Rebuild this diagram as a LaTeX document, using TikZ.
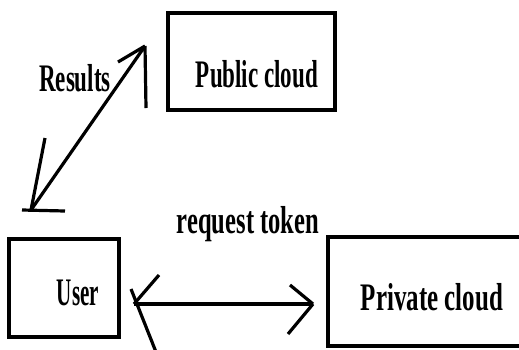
\documentclass[tikz,border=0pt]{standalone}
\usepackage{fontspec}
\setmainfont{Liberation Serif}
\newcommand{\narrow}[2][0.59]{\scalebox{#1}[1]{\bfseries #2}}

\begin{document}
\begin{tikzpicture}[x=1pt, y=-1pt,
    cbox/.style={draw, line width=3.5pt, inner sep=0pt},
    lbl/.style={font=\fontsize{39}{45}\selectfont, inner sep=0pt},
    stroke/.style={line width=3.2pt}]
    \useasboundingbox (0,0) rectangle (519,349);
    \clip (0,0) rectangle (519,349);
    % Public cloud box
    \node[cbox, minimum width=167pt, minimum height=97pt] (pub) at (251.5,61.5) {};
    \node[lbl] (publbl) at (257,74) {\narrow{Public cloud}};
    % User box
    \node[cbox, minimum width=110pt, minimum height=98pt] (user) at (64,288) {};
    \node[lbl] (userlbl) at (78,293) {\narrow[0.54]{User}};
    % Private cloud box (runs off the right edge)
    \node[cbox, minimum width=202pt, minimum height=109pt] (priv) at (429,291.5) {};
    \node[lbl] (privlbl) at (432,297) {\narrow[0.64]{Private cloud}};
    % Results arrow, user side to public cloud
    \coordinate (rlow) at (31,210);
    \coordinate (rhigh) at (145,46);
    \draw[stroke] (rlow) -- (rhigh);
    \draw[stroke] (rhigh) -- ++(-27,16);
    \draw[stroke] (rhigh) -- ++(1,62);
    \draw[stroke] (rlow) -- ++(14,-72);
    \draw[stroke] ([xshift=-9pt]rlow) -- ++(43,1);
    \node[lbl] (reslbl) at (75,78) {\narrow{Results}};
    % request token arrow, user to private cloud
    \coordinate (tleft) at (134,304);
    \coordinate (tright) at (313,304);
    \draw[stroke] (tleft) -- (tright);
    \draw[stroke] (tleft) -- ++(25,-29);
    \draw[stroke] (tleft) ++(-3,-15) -- ++(25,63);
    \draw[stroke] (tright) -- ++(-23,-19);
    \draw[stroke] (tright) -- ++(-25,30);
    \node[lbl] (toklbl) at (248,224) {\narrow[0.63]{request token}};
\end{tikzpicture}
\end{document}
